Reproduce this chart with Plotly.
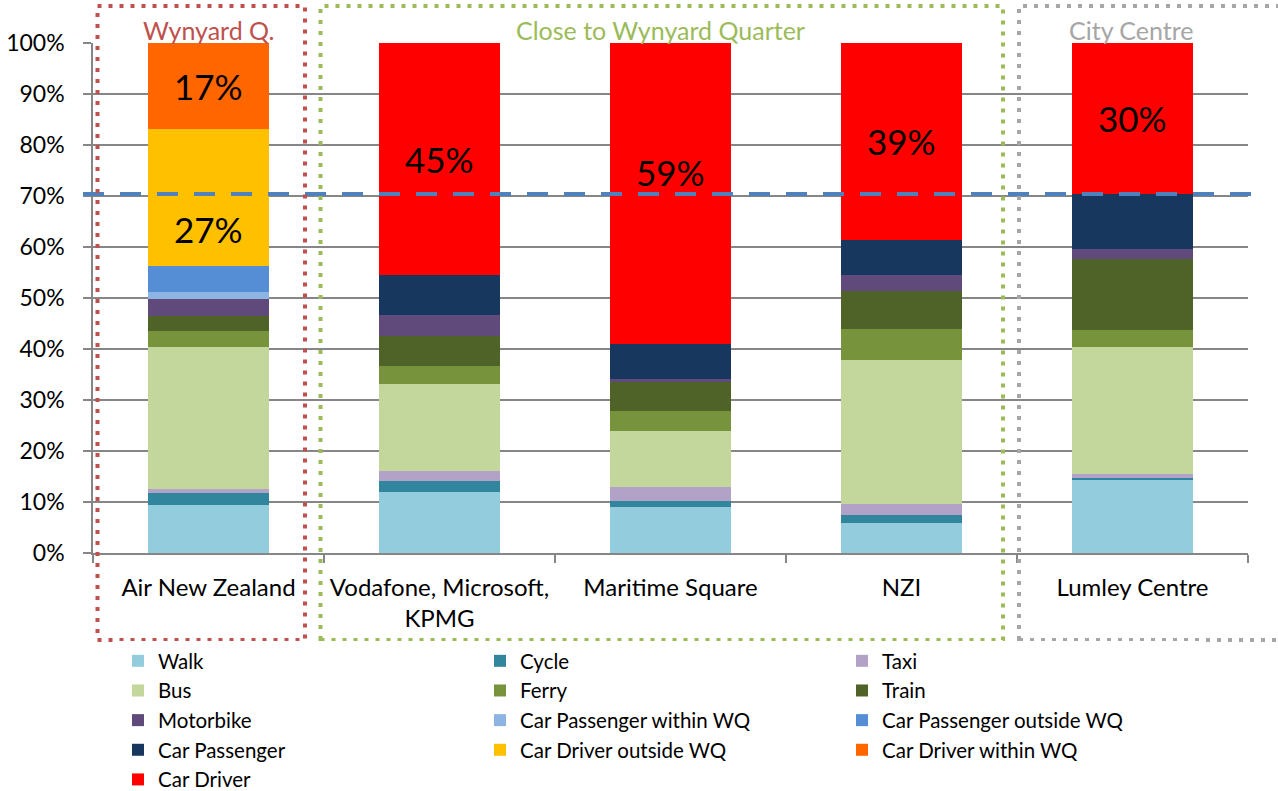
import plotly.graph_objects as go

categories = ["Air New Zealand", "Vodafone, Microsoft,<br>KPMG", "Maritime Square", "NZI", "Lumley Centre"]

walk = [9.4, 12.0, 9.0, 5.8, 14.5]
cycle = [2.4, 2.1, 1.2, 1.7, 0.2]
taxi = [0.7, 2.0, 2.7, 2.1, 0.7]
bus = [27.8, 17.0, 11.0, 28.2, 25.0]
ferry = [3.3, 3.6, 3.9, 6.1, 3.3]
train = [2.9, 5.8, 5.8, 7.5, 14.0]
motorbike = [3.3, 4.1, 0.6, 3.1, 1.9]
car_pass_within = [1.4, 0, 0, 0, 0]
car_pass_outside = [5.1, 0, 0, 0, 0]
car_passenger = [0, 8.0, 6.7, 6.9, 10.8]
car_driver_outside = [26.8, 0, 0, 0, 0]
car_driver_within = [16.9, 0, 0, 0, 0]
car_driver = [0, 45.4, 59.1, 38.6, 29.6]

target_line = 70.4

groups = ["Wynyard Q.", "Close to Wynyard Quarter", "City Centre"]

series = [
    ("Walk", walk, "#93CDDD"),
    ("Cycle", cycle, "#31859C"),
    ("Taxi", taxi, "#B3A2C7"),
    ("Bus", bus, "#C3D69B"),
    ("Ferry", ferry, "#77933C"),
    ("Train", train, "#4F6228"),
    ("Motorbike", motorbike, "#604A7B"),
    ("Car Passenger within WQ", car_pass_within, "#8EB4E3"),
    ("Car Passenger outside WQ", car_pass_outside, "#558ED5"),
    ("Car Passenger", car_passenger, "#17375E"),
    ("Car Driver outside WQ", car_driver_outside, "#FFC000"),
    ("Car Driver within WQ", car_driver_within, "#FF6600"),
    ("Car Driver", car_driver, "#FF0000"),
]

FONT = "Lato, 'Open Sans', sans-serif"

fig = go.Figure()
for name, vals, col in series:
    fig.add_trace(go.Bar(x=categories, y=vals, name=name, marker_color=col,
                         marker_line_width=0))

W, H = 1278, 791
L, R, T, B = 93, 1248, 43, 553


def px(xp):
    return (xp - L) / (R - L)


def py(yp):
    return (B - yp) / (B - T)


# value labels (segment centres; two nudged off the dashed line)
labelled = [
    ("Car Driver within WQ", 0, 0),
    ("Car Driver outside WQ", 0, -31),
    ("Car Driver", 1, 0),
    ("Car Driver", 2, 22),
    ("Car Driver", 3, 0),
    ("Car Driver", 4, 0),
]
names = [s[0] for s in series]
for sname, ci, shift in labelled:
    idx = names.index(sname)
    base = sum(series[k][1][ci] for k in range(idx))
    v = series[idx][1][ci]
    fig.add_annotation(x=categories[ci], y=base + v / 2, text=f"{round(v)}%",
                       showarrow=False, yshift=shift,
                       font=dict(family=FONT, size=35, color="black"))

# dashed reference line
fig.add_shape(type="line", xref="paper", yref="y", x0=px(83), x1=px(1262),
              y0=target_line, y1=target_line,
              line=dict(color="#4F81BD", width=4, dash="21px,16px"))

# group boxes
boxes = [
    (97.5, 305, "#C0504D", groups[0], 208),
    (320.5, 1003, "#9BBB59", groups[1], 660),
    (1019, 1300, "#A6A6A6", groups[2], 1131),
]
for x0, x1, col, label, cx in boxes:
    fig.add_shape(type="rect", xref="paper", yref="paper",
                  x0=px(x0), x1=px(x1), y0=py(640), y1=py(6),
                  line=dict(color=col, width=4, dash="4px,7px"),
                  fillcolor="rgba(0,0,0,0)", layer="above")
    fig.add_annotation(xref="paper", yref="paper", x=px(cx), y=py(30),
                       xanchor="center", yanchor="middle",
                       text=label, showarrow=False,
                       font=dict(family=FONT, size=25, color=col))

fig.update_layout(
    width=W, height=H,
    margin=dict(l=L, r=W - R, t=T, b=H - B, autoexpand=False),
    barmode="stack", bargap=0.48,
    plot_bgcolor="white", paper_bgcolor="white",
    font=dict(family=FONT, size=22, color="black"),
    showlegend=True,
    legend=dict(orientation="h", xref="container", yref="container",
                x=118 / W, y=1 - 641 / H, xanchor="left", yanchor="top",
                entrywidth=317, entrywidthmode="pixels",
                traceorder="normal",
                font=dict(family=FONT, size=20.5, color="black"),
                itemclick=False),
    xaxis=dict(showline=True, linecolor="#868686", linewidth=1.5,
               ticks="outside", tickson="boundaries", ticklen=8,
               tickcolor="#868686", tickwidth=1.5,
               ticklabelstandoff=12, automargin=False,
               tickfont=dict(family=FONT, size=24, color="black")),
    yaxis=dict(range=[0, 100], dtick=10, ticksuffix="%",
               showgrid=True, gridcolor="#868686", gridwidth=1.5,
               showline=True, linecolor="#868686", linewidth=1.5,
               ticks="outside", ticklen=8, tickcolor="#868686", tickwidth=1.5,
               zeroline=False, ticklabelstandoff=14, automargin=False,
               tickfont=dict(family=FONT, size=23, color="black")),
)

fig.write_html("out.html")
